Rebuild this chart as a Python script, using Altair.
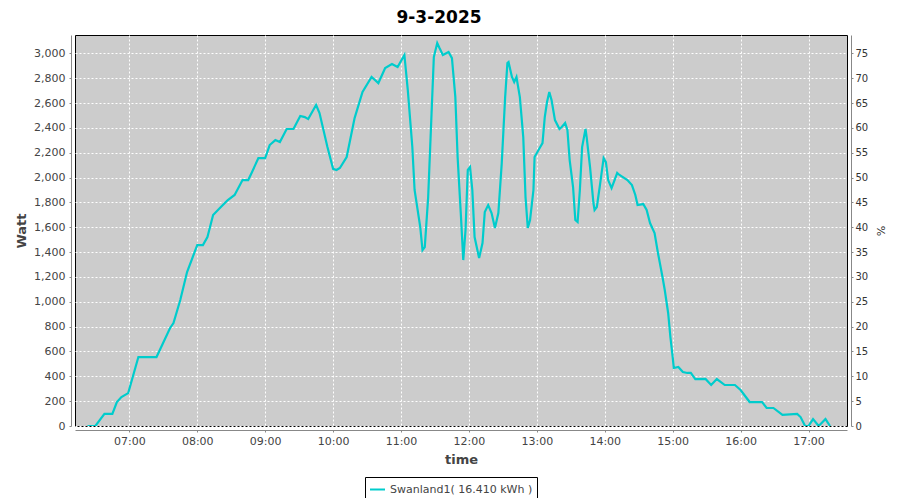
import altair as alt
import pandas as pd

TITLE = "9-3-2025"
SERIES = "Swanland1( 16.410 kWh )"
DAY = "2025-03-09"

times = [
    "06:23", "06:30", "06:38", "06:45", "06:49", "06:53", "06:59", "07:08", "07:24", "07:29",
    "07:36", "07:39", "07:45", "07:51", "07:55", "08:00", "08:05", "08:09", "08:14", "08:20",
    "08:27", "08:33", "08:40", "08:45", "08:48", "08:54", "09:00", "09:04", "09:09", "09:13",
    "09:19", "09:25", "09:31", "09:35", "09:38", "09:41", "09:45", "09:48", "09:55", "10:00",
    "10:03", "10:06", "10:12", "10:19", "10:26", "10:34", "10:40", "10:46", "10:52", "10:57",
    "11:03", "11:06", "11:10", "11:12", "11:17", "11:19", "11:21", "11:24", "11:27", "11:29",
    "11:32", "11:34", "11:37", "11:42", "11:45", "11:48", "11:50", "11:53", "11:55", "11:57",
    "11:59", "12:01", "12:03", "12:05", "12:09", "12:12", "12:14", "12:17", "12:20", "12:23",
    "12:26", "12:29", "12:32", "12:34", "12:35", "12:38", "12:40", "12:42", "12:45", "12:48",
    "12:50", "12:52", "12:54", "12:57", "12:58", "13:03", "13:05", "13:07", "13:09", "13:11",
    "13:13", "13:16", "13:20", "13:22", "13:25", "13:27", "13:29", "13:32", "13:34", "13:36",
    "13:38", "13:40", "13:43", "13:44", "13:47", "13:50", "13:51", "13:53", "13:56", "13:59",
    "14:01", "14:03", "14:06", "14:07", "14:11", "14:13", "14:20", "14:24", "14:27", "14:29",
    "14:34", "14:37", "14:40", "14:44", "14:47", "14:51", "14:53", "14:56", "14:58", "15:00",
    "15:01", "15:05", "15:09", "15:13", "15:16", "15:20", "15:29", "15:34", "15:39", "15:46",
    "15:55", "16:00", "16:08", "16:19", "16:23", "16:29", "16:37", "16:50", "16:53", "16:57",
    "17:00", "17:04", "17:09", "17:15", "17:19",
]

watts = [
    0, 0, 97, 97, 193, 233, 265, 555, 555, 652,
    789, 829, 1014, 1240, 1336, 1457, 1457, 1521, 1699, 1755,
    1819, 1860, 1980, 1980, 2037, 2157, 2157, 2262, 2302, 2286,
    2391, 2391, 2496, 2487, 2471, 2520, 2584, 2520, 2246, 2070,
    2061, 2077, 2166, 2479, 2689, 2810, 2761, 2882, 2914, 2890,
    2987, 2705, 2246, 1900, 1602, 1417, 1441, 1843, 2520, 2970,
    3083, 3043, 2987, 3011, 2962, 2648, 2166, 1682, 1336, 1578,
    2061, 2085, 1900, 1521, 1352, 1473, 1723, 1779, 1715, 1594,
    1715, 2117, 2648, 2922, 2930, 2810, 2769, 2810, 2648, 2326,
    1843, 1594, 1658, 1900, 2166, 2246, 2278, 2487, 2608, 2689,
    2624, 2463, 2391, 2407, 2439, 2383, 2141, 1924, 1658, 1642,
    1900, 2246, 2391, 2326, 2085, 1795, 1739, 1763, 1956, 2157,
    2125, 1980, 1916, 1940, 2037, 2021, 1980, 1940, 1860, 1779,
    1787, 1739, 1634, 1554, 1393, 1199, 1095, 910, 716, 555,
    467, 475, 435, 427, 427, 378, 379, 330, 378, 330,
    330, 290, 193, 193, 145, 145, 89, 97, 72, 0,
    0, 56, 0, 56, 0,
]

watt_ticks = list(range(0, 3001, 200))
pct_ticks = list(range(0, 76, 5))
hour_ticks = list(range(7, 18))
watt_max = 3148
pct_max = watt_max / 40

df = pd.DataFrame({
    "time": [f"{DAY}T{t}:00" for t in times],
    "watt": watts,
})
df["pct"] = df["watt"] / 40
df["series"] = SERIES

x_domain = [
    alt.DateTime(year=2025, month=3, date=9, hours=6, minutes=12),
    alt.DateTime(year=2025, month=3, date=9, hours=17, minutes=34),
]
x_values = [alt.DateTime(year=2025, month=3, date=9, hours=h) for h in hour_ticks]

FONT = "DejaVu Sans"
LBL = "#444444"
AX = "#888888"

x_enc = alt.X(
    "time:T",
    scale=alt.Scale(domain=x_domain),
    axis=alt.Axis(
        values=x_values, format="%H:%M", title="time", grid=True,
        gridColor="white", gridDash=[2, 2], gridWidth=1, gridOpacity=1,
        offset=4, domainColor=AX, tickColor=AX, tickSize=2,
        labelFont=FONT, labelFontSize=11, labelColor=LBL, labelPadding=3,
        titleFont=FONT, titleFontSize=13, titleFontWeight="bold", titleColor=LBL,
        titlePadding=7, labelFlush=False,
    ),
)

line = alt.Chart(df).mark_line(strokeWidth=2.2, clip=True).encode(
    x=x_enc,
    y=alt.Y(
        "watt:Q",
        scale=alt.Scale(domain=[0, watt_max], nice=False, zero=True),
        axis=alt.Axis(
            values=watt_ticks, format=",d", title="Watt", grid=True,
            gridColor="white", gridDash=[2, 2], gridWidth=1, gridOpacity=1,
            offset=4, domainColor=AX, tickColor=AX, tickSize=2,
            labelFont=FONT, labelFontSize=11, labelColor=LBL, labelPadding=4,
            titleFont=FONT, titleFontSize=13, titleFontWeight="bold", titleColor=LBL,
            titlePadding=5,
        ),
    ),
    color=alt.Color(
        "series:N",
        scale=alt.Scale(range=["#00CCCC"]),
        legend=alt.Legend(
            title=None, orient="none", legendX=290, legendY=442,
            symbolType="stroke", symbolSize=225, symbolStrokeWidth=2,
            labelFont=FONT, labelFontSize=11, labelColor=LBL, labelOffset=4,
            strokeColor="black", padding=4, fillColor="white",
        ),
    ),
)

pct = alt.Chart(df).mark_line(opacity=0).encode(
    x=alt.X("time:T", scale=alt.Scale(domain=x_domain)),
    y=alt.Y(
        "pct:Q",
        scale=alt.Scale(domain=[0, pct_max], nice=False, zero=True),
        axis=alt.Axis(
            orient="right", values=pct_ticks, format="d", title="%", grid=False,
            offset=4, domainColor=AX, tickColor=AX, tickSize=2,
            labelFont=FONT, labelFontSize=10, labelColor="#333333", labelPadding=2,
            titleFont=FONT, titleFontSize=11, titleFontWeight="normal", titleColor="#333333",
            titlePadding=7,
        ),
    ),
)

chart = alt.layer(line, pct).resolve_scale(y="independent").properties(
    width=772,
    height=391,
    title=alt.TitleParams(
        TITLE, font=FONT, fontSize=17, fontWeight="bold", color="black",
        anchor="middle", dx=-22, offset=8,
    ),
    autosize=alt.AutoSizeParams(type="none"),
    padding={"left": 67, "top": 27, "right": 45, "bottom": 72},
    background="white",
).configure_view(
    fill="#CCCCCC", stroke="black", strokeWidth=1,
)

chart.save("out.html", embed_options={"renderer": "svg", "actions": False})
